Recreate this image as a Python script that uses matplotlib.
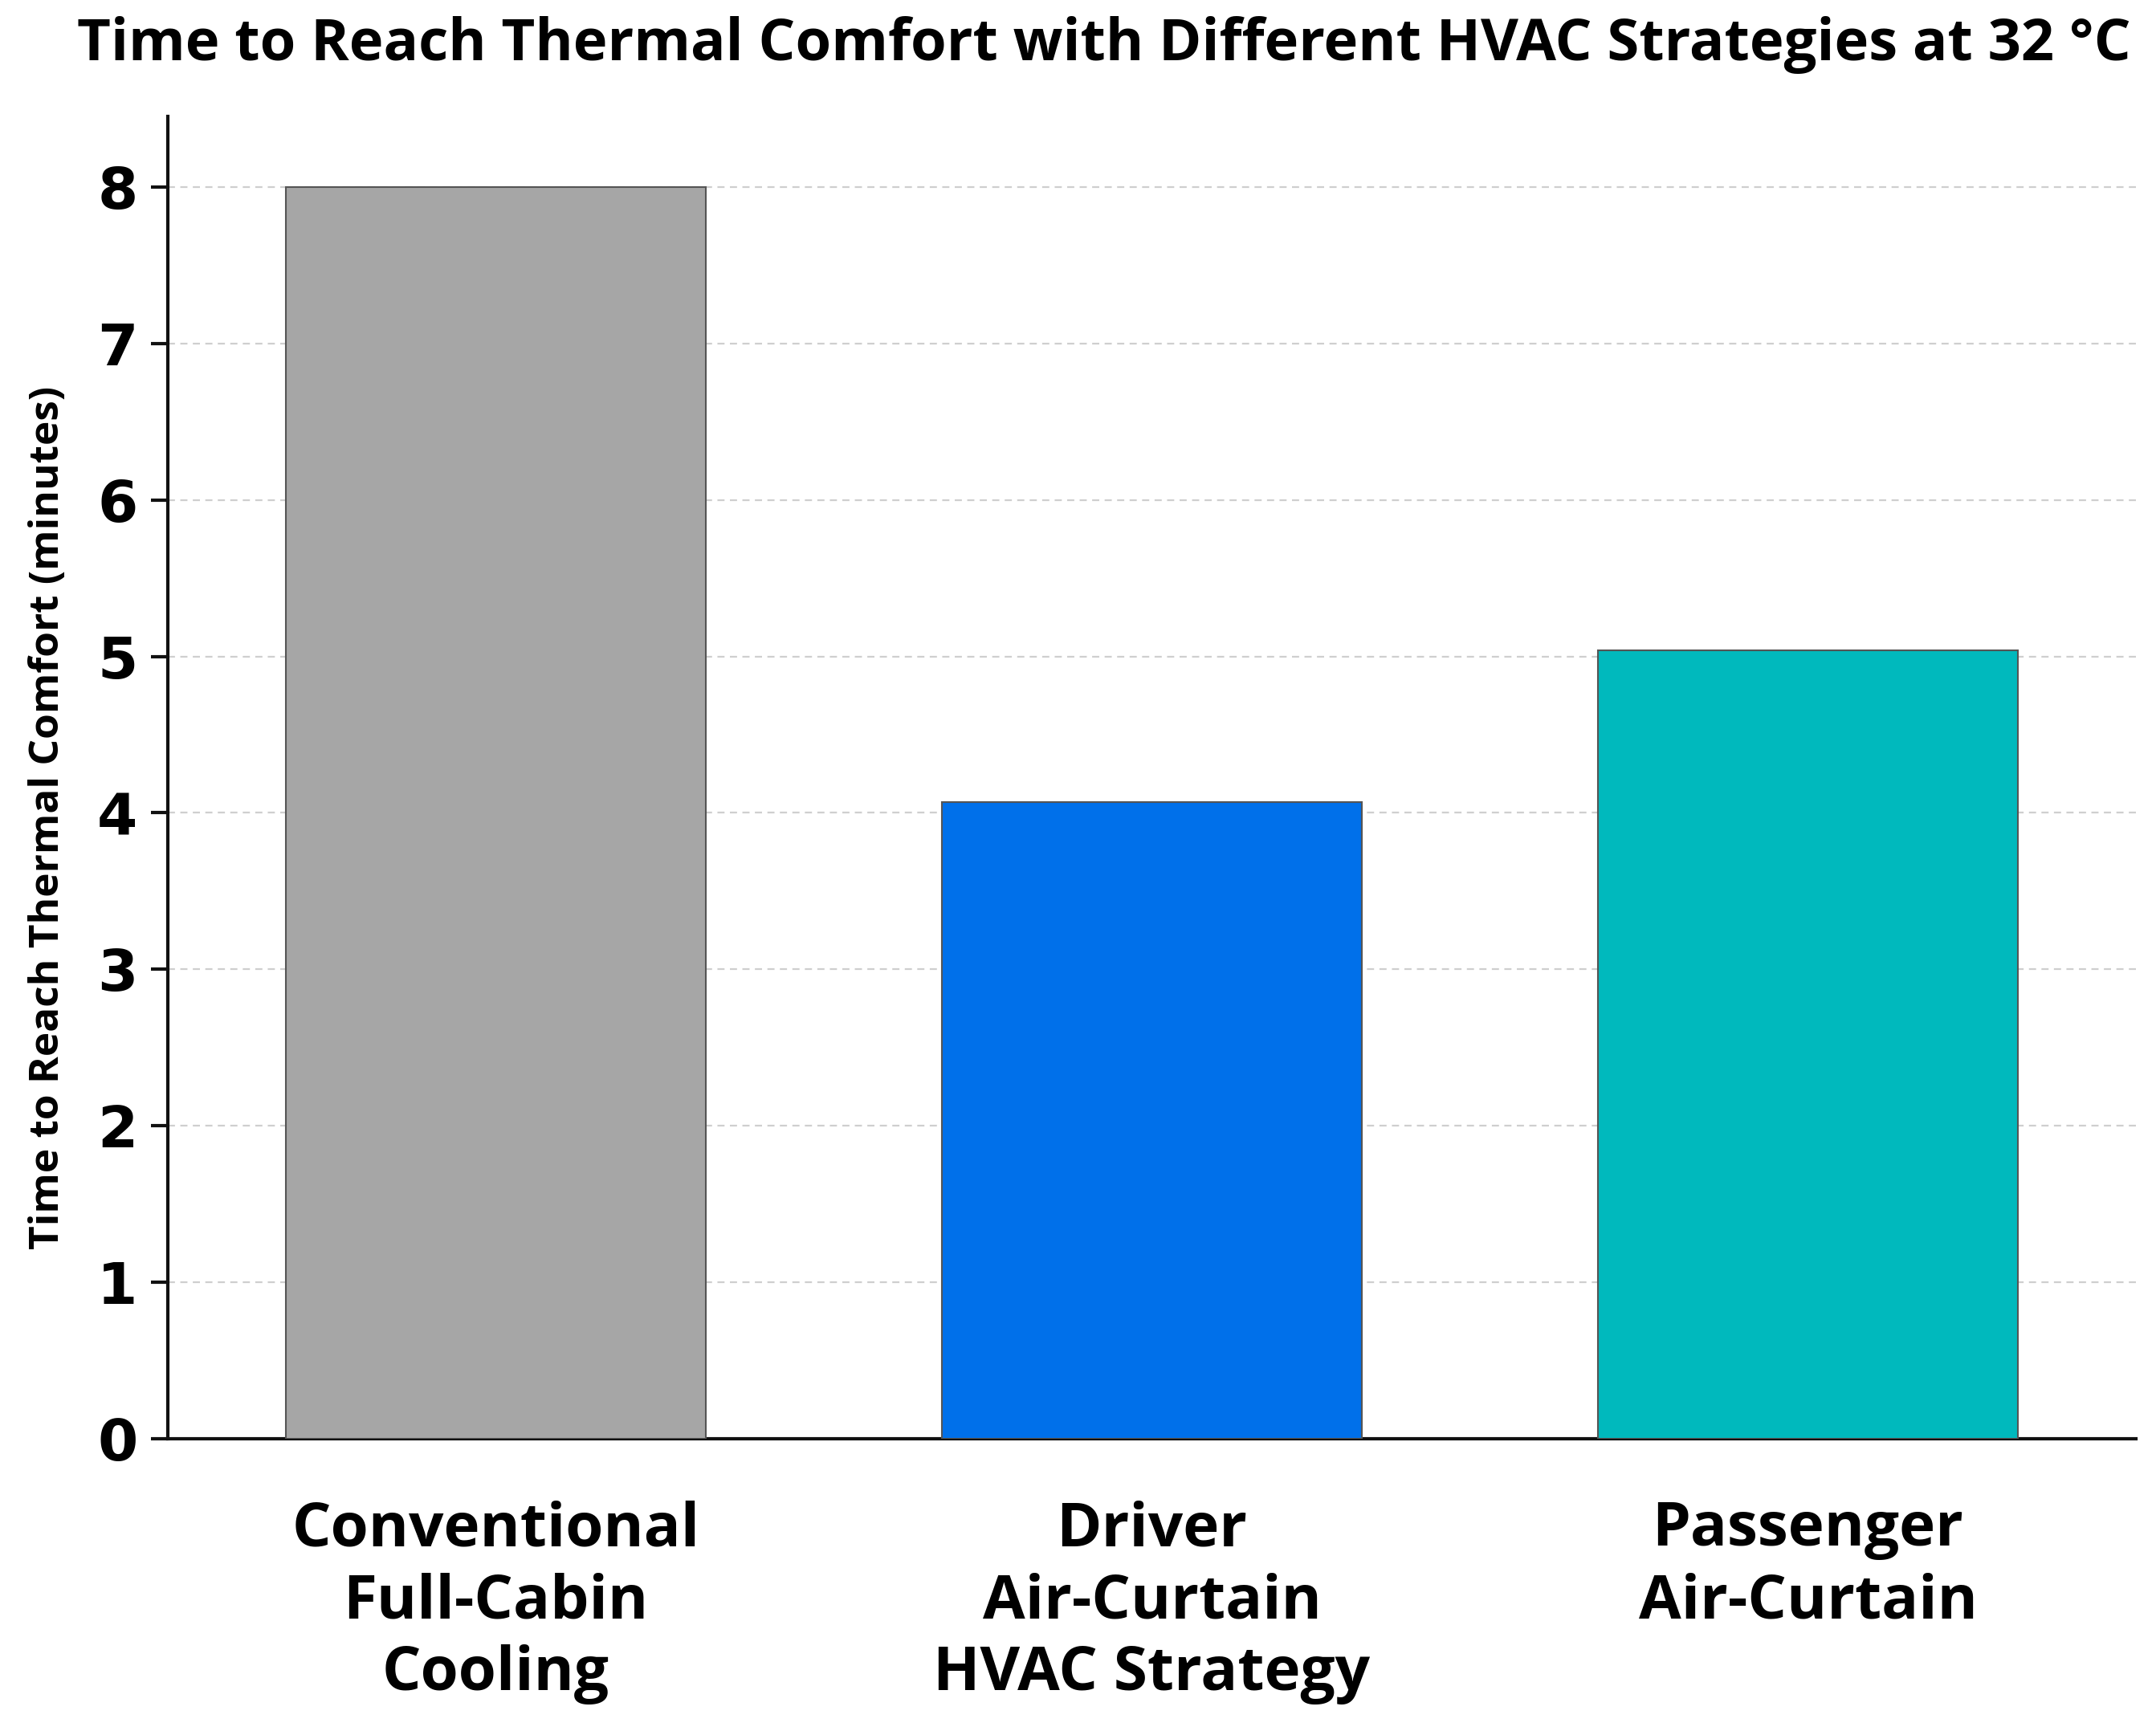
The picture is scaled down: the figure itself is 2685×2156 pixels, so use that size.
import matplotlib
matplotlib.use('Agg')
import matplotlib.pyplot as plt

# data
strategies = ['Conventional\nFull-Cabin\nCooling', 'Driver\nAir-Curtain\nHVAC Strategy', 'Passenger\nAir-Curtain']
minutes = [8.0, 4.07, 5.04]
barColors = ['#a6a6a6', '#0070ea', '#00b9bd']
yTicks = [0, 1, 2, 3, 4, 5, 6, 7, 8]

titleText = 'Time to Reach Thermal Comfort with Different HVAC Strategies at 32 °C'
yLabelText = 'Time to Reach Thermal Comfort (minutes)'

plt.rcParams['font.family'] = ['Open Sans', 'DejaVu Sans']

fig = plt.figure(figsize=(26.85, 21.56), dpi=100)
ax = fig.add_axes([0.0778, 0.1688, 0.9129, 0.7639])

ax.bar(range(len(minutes)), minutes, width=0.64, color=barColors,
       edgecolor='#555555', linewidth=1.5, zorder=3)

ax.set_xlim(-0.5, 2.5)
ax.set_ylim(0, 8.45)
ax.set_yticks(yTicks)
ax.set_xticks(range(len(strategies)))
ax.set_xticklabels(strategies, fontsize=55, fontweight='bold', linespacing=1.26)
for lbl in ax.get_yticklabels():
    lbl.set_fontsize(52)
    lbl.set_fontweight('bold')
    lbl.set_family('DejaVu Sans')

ax.yaxis.grid(True, linestyle=(0, (4, 3)), color='#cfcfcf', linewidth=1.6, zorder=0)
ax.set_axisbelow(True)

for side in ['top', 'right']:
    ax.spines[side].set_visible(False)
for side in ['left', 'bottom']:
    ax.spines[side].set_linewidth(3)
    ax.spines[side].set_color('#111111')

ax.tick_params(axis='y', length=15, width=3, pad=12, color='#111111')
ax.tick_params(axis='x', length=0, pad=55)

ax.set_ylabel(yLabelText, fontsize=37, fontweight='bold')
ax.yaxis.set_label_coords(-0.0505, 0.47)

fig.text(0.512, 0.974, titleText, fontsize=52, fontweight='bold', ha='center', va='center')

fig.savefig('out.png', dpi=100)
